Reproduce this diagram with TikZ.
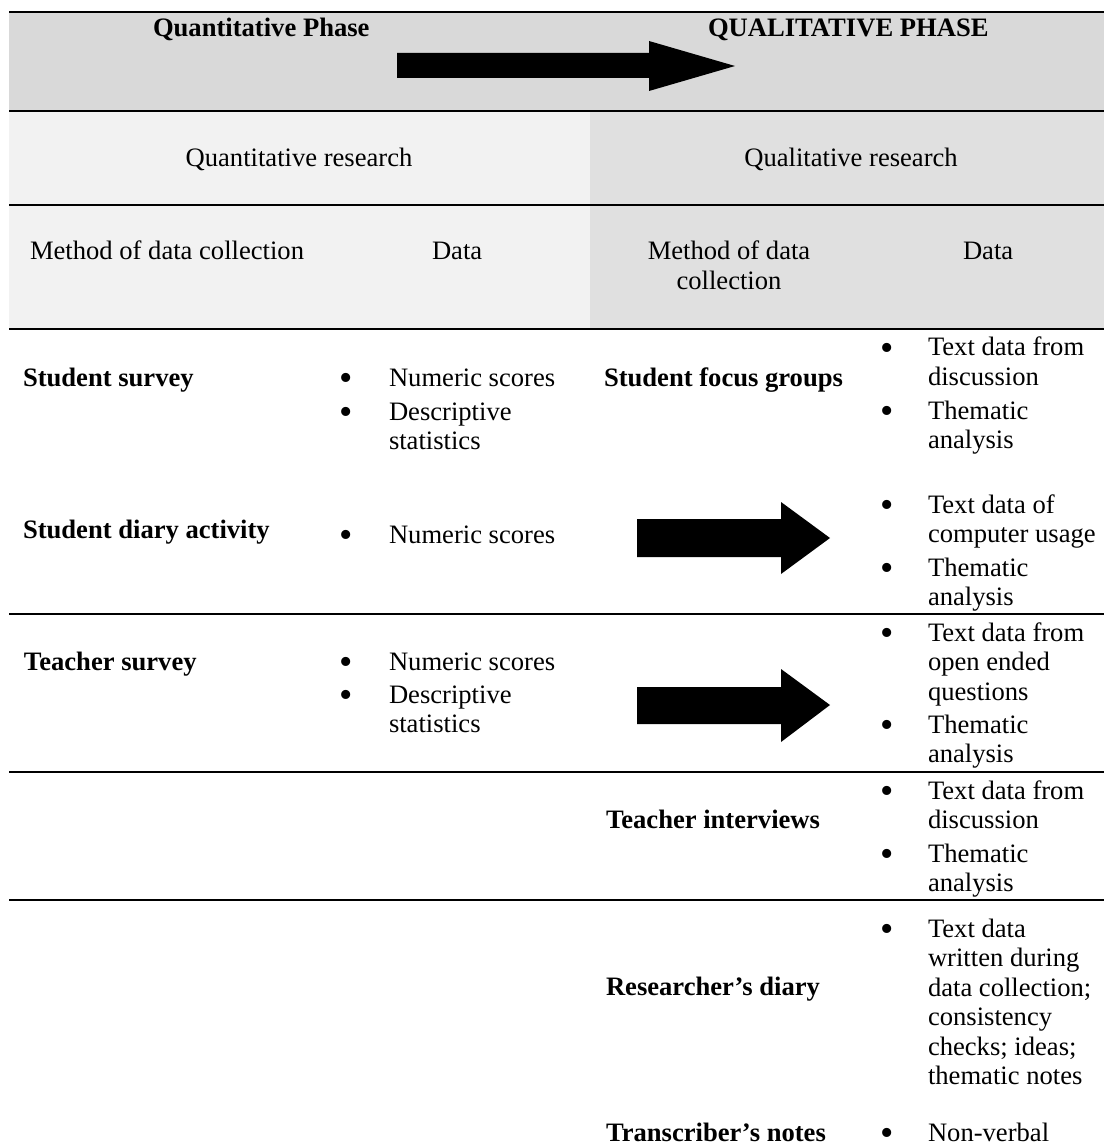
\documentclass[tikz,border=0pt]{standalone}
\usepackage{fontspec}
\setmainfont{Liberation Serif}
\definecolor{bandgray}{HTML}{D9D9D9}
\definecolor{quantfill}{HTML}{F2F2F2}
\definecolor{qualfill}{HTML}{E0E0E0}
\begin{document}
\begin{tikzpicture}[x=0.5pt,y=-0.5pt,
  % multi-line nodes are anchored at the baseline of their last line
  txt/.style={inner sep=0pt, outer sep=0pt, font=\fontsize{13.3}{14.75}\selectfont, align=left, anchor=base west},
  ctxt/.style={txt, align=center, anchor=base},
  bold/.style={txt, font=\fontsize{13.3}{14.75}\selectfont\bfseries},
  bul/.style={inner sep=0pt, outer sep=0pt, font=\fontsize{19}{19}\selectfont, text height=7pt, text depth=0pt, anchor=base, yshift=-2pt},
  rule/.style={line width=1.1pt},
  blockarrow/.style={fill=black}
]
\useasboundingbox (0,0) rectangle (1104,1144);

% shaded header bands
\fill[bandgray] (9,12) rectangle (1104,111);
\fill[quantfill] (9,111) rectangle (590,329);
\fill[qualfill] (590,111) rectangle (1104,329);

% horizontal rules
\foreach \yy in {12,111,205,329,614,772,900}
  \draw[rule] (9,\yy) -- (1104,\yy);

% phase titles and the big arrow
\node[bold] (quantphase) at (153,37) {Quantitative Phase};
\node[bold] (qualphase) at (708,37) {QUALITATIVE PHASE};
\fill[blockarrow] (397,53) -- (649,53) -- (649,41) -- (735,66) -- (649,91) -- (649,78) -- (397,78) -- cycle;

% research headings
\node[ctxt] (quantres) at (299,167) {Quantitative research};
\node[ctxt] (qualres) at (851,167) {Qualitative research};

% column headings
\node[txt] (quantmeth) at (30,260) {Method of data collection};
\node[txt] (quantdata) at (432,260) {Data};
\node[ctxt] (qualmeth) at (729,289.5) {Method of data\\collection};
\node[txt] (qualdata) at (963,260) {Data};

% student survey / focus groups
\node[bold] (ssurvey) at (23,386) {Student survey};
\node[bul] (b1) at (346,386) {•};
\node[txt] (d1) at (389,386) {Numeric scores};
\node[bul] (b2) at (346,420) {•};
\node[txt] (d2) at (389,449.5) {Descriptive\\statistics};
\node[bold] (sfocus) at (604,386) {Student focus groups};
\node[bul] (b3) at (887,356) {•};
\node[txt] (d3) at (928,385.5) {Text data from\\discussion};
\node[bul] (b4) at (887,419) {•};
\node[txt] (d4) at (928,448.5) {Thematic\\analysis};

% student diary
\node[bold] (sdiary) at (23,538) {Student diary activity};
\node[bul] (b5) at (346,543) {•};
\node[txt] (d5) at (389,543) {Numeric scores};
\fill[blockarrow] (637,519) -- (781,519) -- (781,502) -- (830,538) -- (781,574) -- (781,557) -- (637,557) -- cycle;
\node[bul] (b6) at (887,513) {•};
\node[txt] (d6) at (928,542.5) {Text data of\\computer usage};
\node[bul] (b7) at (887,576) {•};
\node[txt] (d7) at (928,605.5) {Thematic\\analysis};

% teacher survey
\node[bold] (tsurvey) at (24,670) {Teacher survey};
\node[bul] (b8) at (346,670) {•};
\node[txt] (d8) at (389,670) {Numeric scores};
\node[bul] (b9) at (346,703) {•};
\node[txt] (d9) at (389,732.5) {Descriptive\\statistics};
\fill[blockarrow] (637,687) -- (781,687) -- (781,669) -- (830,705) -- (781,742) -- (781,724) -- (637,724) -- cycle;
\node[bul] (b10) at (887,641) {•};
\node[txt] (d10) at (928,700) {Text data from\\open ended\\questions};
\node[bul] (b11) at (887,733) {•};
\node[txt] (d11) at (928,762.5) {Thematic\\analysis};

% teacher interviews
\node[bold] (tinter) at (606,828) {Teacher interviews};
\node[bul] (b12) at (887,799) {•};
\node[txt] (d12) at (928,828.5) {Text data from\\discussion};
\node[bul] (b13) at (887,862) {•};
\node[txt] (d13) at (928,891.5) {Thematic\\analysis};

% researcher's diary and transcriber's notes
\node[bold] (rdiary) at (606,995) {Researcher’s diary};
\node[bul] (b14) at (887,937) {•};
\node[txt] (d14) at (928,1084.5) {Text data\\written during\\data collection;\\consistency\\checks; ideas;\\thematic notes};
\node[bold] (tnotes) at (606,1141) {Transcriber’s notes};
\node[bul] (b15) at (887,1141) {•};
\node[txt] (d15) at (928,1141) {Non-verbal};
\end{tikzpicture}
\end{document}
